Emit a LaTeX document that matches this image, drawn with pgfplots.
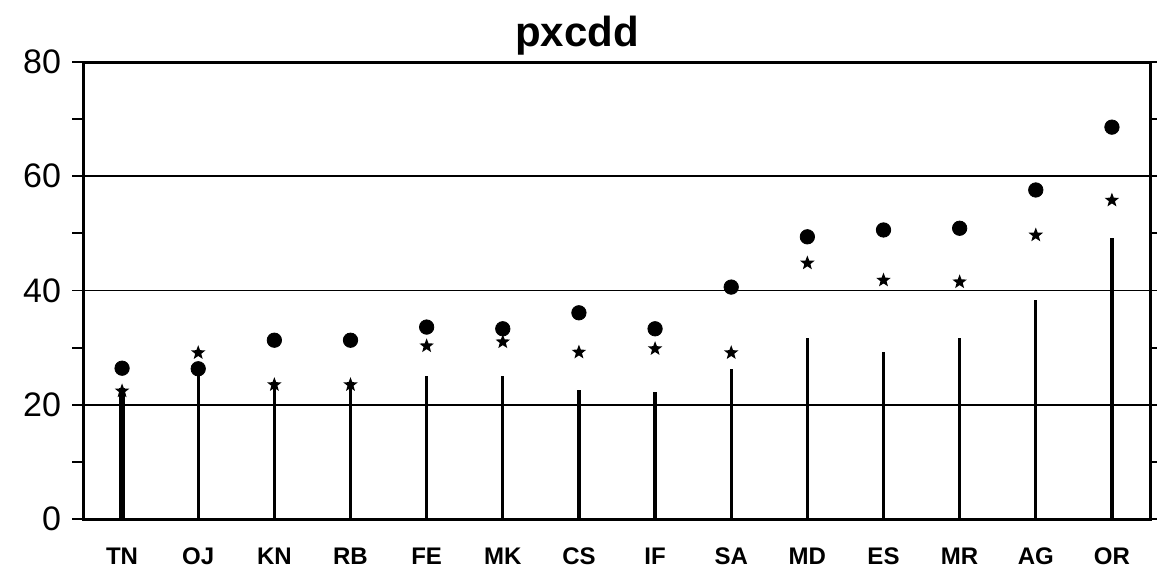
\documentclass[border=0pt]{standalone}
\usepackage{fontspec}
\setmainfont{Liberation Sans}
\usepackage{pgfplots}
\pgfplotsset{compat=1.18}
\pgfdeclareplotmark{fstar}{%
  \pgfpathmoveto{\pgfqpointpolar{90}{\pgfplotmarksize}}%
  \pgfpathlineto{\pgfqpointpolar{126}{0.42\pgfplotmarksize}}%
  \pgfpathlineto{\pgfqpointpolar{162}{\pgfplotmarksize}}%
  \pgfpathlineto{\pgfqpointpolar{198}{0.42\pgfplotmarksize}}%
  \pgfpathlineto{\pgfqpointpolar{234}{\pgfplotmarksize}}%
  \pgfpathlineto{\pgfqpointpolar{270}{0.42\pgfplotmarksize}}%
  \pgfpathlineto{\pgfqpointpolar{306}{\pgfplotmarksize}}%
  \pgfpathlineto{\pgfqpointpolar{342}{0.42\pgfplotmarksize}}%
  \pgfpathlineto{\pgfqpointpolar{18}{\pgfplotmarksize}}%
  \pgfpathlineto{\pgfqpointpolar{54}{0.42\pgfplotmarksize}}%
  \pgfpathclose
  \pgfusepathqfill
}
\begin{document}
\begin{tikzpicture}
\begin{axis}[
  scale only axis,
  width=533pt, height=228.5pt,
  xmin=-0.5, xmax=13.5, ymin=0, ymax=80,
  xtick={0,...,13},
  xticklabels={TN,OJ,KN,RB,FE,MK,CS,IF,SA,MD,ES,MR,AG,OR},
  xticklabel style={font=\fontsize{12}{12}\selectfont\bfseries, yshift=-5pt},
  x tick style={draw=none},
  ytick={0,20,40,60,80},
  minor ytick={10,30,50,70},
  ytick pos=both,
  tick align=outside,
  major tick length=6pt, minor tick length=6pt,
  y tick style={line width=0.9pt, black},
  yticklabel style={font=\fontsize{17}{17}\selectfont, xshift=-2pt},
  /pgf/number format/assume math mode=true,
  ymajorgrids,
  major grid style={line width=0.9pt, black},
  axis line style={line width=1.5pt},
  title={\bfseries pxcdd},
  title style={font=\fontsize{21}{21}\selectfont, xshift=-20pt, yshift=-6pt},
  clip=false,
]
\addplot[ycomb, line width=2.6pt, black, no marks] coordinates {(0,23.0)};
\addplot[ycomb, line width=1.7pt, black, no marks] coordinates {
(1,26.1) (2,23.8) (3,23.8) (4,25.0) (5,25.0) (6,22.6) (7,22.2) (8,26.3) (9,31.7) (10,29.2) (11,31.7) (12,38.3) (13,49.2)};
\addplot[only marks, mark=*, mark size=3.6pt, black] coordinates {
(0,26.4) (1,26.3) (2,31.3) (3,31.3) (4,33.6) (5,33.3) (6,36.1) (7,33.3) (8,40.6) (9,49.4) (10,50.6) (11,50.9) (12,57.6) (13,68.6)};
\addplot[only marks, mark=fstar, mark size=3.8pt, black] coordinates {
(0,22.4) (1,29.1) (2,23.5) (3,23.5) (4,30.3) (5,31.0) (6,29.2) (7,29.8) (8,29.1) (9,44.8) (10,41.8) (11,41.5) (12,49.7) (13,55.8)};
\end{axis}
\pgfresetboundingbox
\path ([shift={(-42pt,-25.5pt)}]current axis.south west) rectangle ([shift={(536.5pt,259.5pt)}]current axis.south west);
\end{tikzpicture}
\end{document}
